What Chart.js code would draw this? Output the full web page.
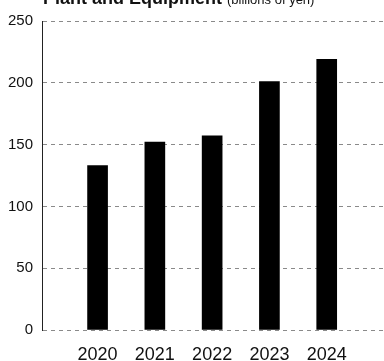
<!DOCTYPE html>
<html>
<head>
<meta charset="utf-8">
<script src="https://cdn.jsdelivr.net/npm/chart.js@4"></script>
<style>
  html, body { margin: 0; padding: 0; background: #fff; }
  #wrap { width: 384px; height: 361px; }
</style>
</head>
<body>
<div id="wrap"><canvas id="grafica" width="384" height="361"></canvas></div>
<script>
// Datos de la grafica
const years = ['2020', '2021', '2022', '2023', '2024']
const values = [133, 152, 157, 201, 219]
const yTicks = [0, 50, 100, 150, 200, 250]

// titulo cortado arriba
const titlePlugin = {
  id: 'titulo',
  afterDraw(chart) {
    const ctx = chart.ctx
    ctx.save()
    ctx.fillStyle = '#111'
    ctx.textBaseline = 'alphabetic'
    ctx.font = 'bold 18px "Liberation Sans", sans-serif'
    ctx.fillText('Plant and Equipment', 43, 4)
    const w = ctx.measureText('Plant and Equipment').width
    ctx.font = '13px "Liberation Sans", sans-serif'
    ctx.fillText('(billions of yen)', 43 + w + 5, 4)
    ctx.restore()
  }
}

const graph = document.querySelector('#grafica')

const data = {
  datasets: [{
    data: values.map((v, i) => ({ x: i + 1, y: v })),
    backgroundColor: '#000',
    barThickness: 20
  }]
}

const config = {
  type: 'bar',
  data: data,
  plugins: [titlePlugin],
  options: {
    responsive: false,
    animation: false,
    layout: { padding: { top: 21, right: 0, left: 0, bottom: 0 } },
    plugins: { legend: { display: false }, tooltip: { enabled: false } },
    scales: {
      x: {
        type: 'linear',
        offset: false,
        min: 0.03,
        max: 6,
        grid: { display: false, drawTicks: false },
        border: { display: false },
        afterFit: s => { s.height = 31 },
        afterBuildTicks: s => { s.ticks = years.map((y, i) => ({ value: i + 1 })) },
        ticks: {
          padding: 14,
          maxRotation: 0,
          autoSkip: false,
          color: '#111',
          font: { family: '"Liberation Sans", sans-serif', size: 18 },
          callback: v => years[v - 1] || ''
        }
      },
      y: {
        min: 0,
        max: 250,
        afterFit: s => { s.width = 42 },
        afterBuildTicks: s => { s.ticks = yTicks.map(v => ({ value: v })) },
        grid: { color: '#8a8a8a', lineWidth: 1, drawTicks: false },
        border: { display: true, color: '#222', width: 1, dash: [4, 4] },
        ticks: {
          padding: 9,
          color: '#111',
          font: { family: '"Liberation Sans", sans-serif', size: 15 }
        }
      }
    }
  }
}

new Chart(graph, config)
</script>
</body>
</html>
